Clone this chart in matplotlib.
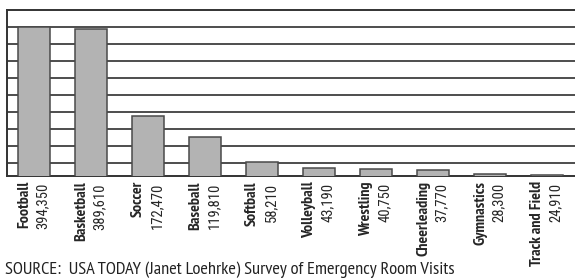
import matplotlib
matplotlib.use("Agg")
import matplotlib.pyplot as plt
import numpy as np

sports = ["Football", "Basketball", "Soccer", "Baseball", "Softball",
          "Volleyball", "Wrestling", "Cheerleading", "Gymnastics", "Track and Field"]
visits = [394350, 389610, 172470, 119810, 58210, 43190, 40750, 37770, 28300, 24910]
value_labels = ["394,350", "389,610", "172,470", "119,810", "58,210",
                "43,190", "40,750", "37,770", "28,300", "24,910"]
source_text = "SOURCE:  USA TODAY (Janet Loehrke) Survey of Emergency Room Visits"

NAME_FAM = ["PT Sans Narrow", "Roboto Condensed", "DejaVu Sans"]
NUM_FAM = ["Roboto Condensed", "PT Sans Narrow", "DejaVu Sans"]
SRC_FAM = ["PT Sans Narrow", "Roboto Condensed", "DejaVu Sans"]

fig = plt.figure(figsize=(5.75, 2.8), dpi=100)
fig.patch.set_facecolor("white")
ax = fig.add_axes([7 / 575, 1 - 176 / 280, 1 - 7 / 575, (176 - 9.5) / 280])

x = np.arange(len(sports))
ax.bar(x, visits, width=0.56, color="#b3b3b3", edgecolor="#4a4a4a",
       linewidth=1.1, zorder=3)

ax.set_xlim(-0.474, 9.49)
ax.set_ylim(23000, 437000)
grid_vals = 55200 + 42300 * np.arange(9)
ax.set_yticks(grid_vals)
ax.yaxis.grid(True, color="#4d4d4d", linewidth=1.4)
ax.set_axisbelow(True)
ax.tick_params(axis="both", length=0, labelleft=False, labelbottom=False)
ax.set_xticks([])
for s in ["left", "bottom", "top"]:
    ax.spines[s].set_color("#333333")
    ax.spines[s].set_linewidth(1.4)
ax.spines["right"].set_visible(False)

for i, (name, val) in enumerate(zip(sports, value_labels)):
    ax.annotate(name, xy=(i, 0), xycoords=("data", "axes fraction"),
                xytext=(-10, -5), textcoords="offset pixels",
                rotation=90, ha="center", va="top", fontsize=11.5,
                fontweight="bold", family=NAME_FAM, color="#262626")
    ax.annotate(val, xy=(i, 0), xycoords=("data", "axes fraction"),
                xytext=(9, -7), textcoords="offset pixels",
                rotation=90, ha="center", va="top", fontsize=10.5,
                family=NUM_FAM, color="#262626")

fig.text(5 / 575, 1 - 274 / 280, source_text, ha="left", va="baseline",
         fontsize=13.2, family=SRC_FAM, color="#222222")

fig.savefig("out.png", dpi=100, facecolor="white")
